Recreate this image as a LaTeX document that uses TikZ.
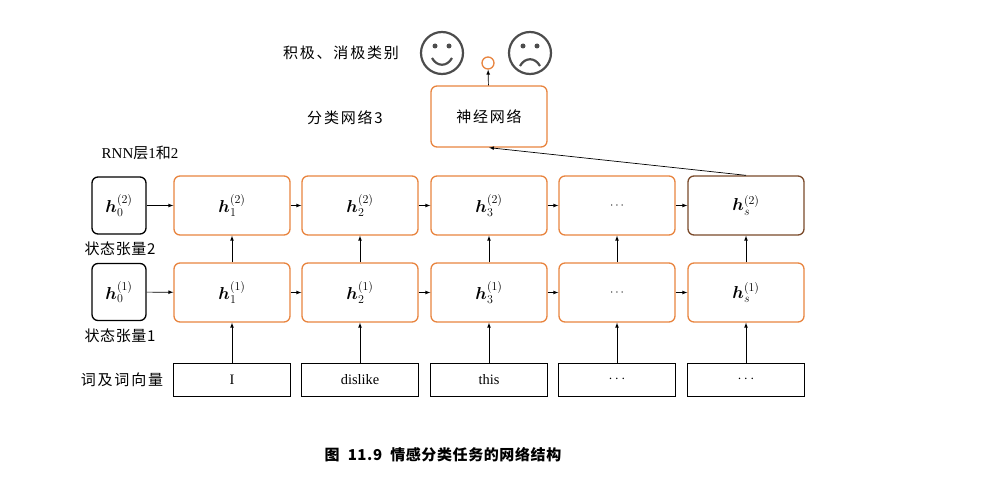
\documentclass[tikz,border=0pt]{standalone}
\usepackage{bm}
\usepackage{fontspec}
\newfontfamily\cjk[LetterSpace=12]{Noto Sans CJK SC}
\newfontfamily\cjkb[LetterSpace=4]{Noto Sans CJK SC}
\setmainfont{Liberation Serif}
\begin{document}
\begin{tikzpicture}[x=1pt,y=-1pt,
  cell/.style={draw=orng,line width=1.3pt,rounded corners=6pt,minimum width=116pt,minimum height=59pt,inner sep=0pt,font=\LARGE},
  init/.style={draw=black,line width=1.3pt,rounded corners=6pt,minimum width=54pt,minimum height=57pt,inner sep=0pt,font=\LARGE},
  inp/.style={draw=black,line width=1pt,minimum width=117pt,minimum height=33pt,inner sep=0pt},
  lbl/.style={font=\cjk\fontsize{15}{18}\selectfont,inner sep=0pt},
  arr/.style={-latex,line width=0.7pt},
  face/.style={draw=gray!60!black,line width=2.2pt}]
\definecolor{orng}{HTML}{E8843F}
\definecolor{brn}{HTML}{7A4A2A}
\useasboundingbox (0,0) rectangle (994,492);
\node[cell] (t1) at (232,205.5) {$\bm{h}_1^{(2)}$};
\node[cell] (t2) at (360,205.5) {$\bm{h}_2^{(2)}$};
\node[cell] (t3) at (489,205.5) {$\bm{h}_3^{(2)}$};
\node[cell] (t4) at (617,205.5) {\large$\cdots$};
\node[cell,draw=brn] (t5) at (746,205.5) {$\bm{h}_s^{(2)}$};
\node[cell] (b1) at (232,292.5) {$\bm{h}_1^{(1)}$};
\node[cell] (b2) at (360,292.5) {$\bm{h}_2^{(1)}$};
\node[cell] (b3) at (489,292.5) {$\bm{h}_3^{(1)}$};
\node[cell] (b4) at (617,292.5) {\large$\cdots$};
\node[cell] (b5) at (746,292.5) {$\bm{h}_s^{(1)}$};
\node[inp,font=\Large] (i1) at (232,379.5) {I};
\node[inp,font=\Large] (i2) at (360,379.5) {dislike};
\node[inp,font=\Large] (i3) at (489,379.5) {this};
\node[inp] (i4) at (617,379.5) {\Large$\cdots$};
\node[inp] (i5) at (746,379.5) {\Large$\cdots$};
\node[init] (h2) at (119,205.5) {$\bm{h}_0^{(2)}$};
\node[init] (h1) at (119,292) {$\bm{h}_0^{(1)}$};
\node[draw=orng,line width=1.3pt,rounded corners=6pt,minimum width=116pt,minimum height=61pt,font=\cjk\fontsize{15}{18}\selectfont] (net) at (489,116.5) {神经网络};
\node[circle,draw=orng,line width=1.3pt,minimum size=12pt,inner sep=0pt] (o) at (488,63) {};
\draw[face] (442,53) circle (21);
\fill[gray!60!black] (435,46) circle (2.5) (449,46) circle (2.5);
\draw[face] (432,58) .. controls (437,67) and (447,67) .. (452,58);
\draw[face] (530,53) circle (21);
\fill[gray!60!black] (523,46) circle (2.5) (537,46) circle (2.5);
\draw[face] (520,66) .. controls (525,57) and (535,57) .. (540,66);
\node[lbl] at (341,53) {积极、消极类别};
\node[lbl] at (345,118) {分类网络3};
\node[lbl] at (140,153) {\fontspec{Liberation Serif}RNN\cjkb 层\fontspec{Liberation Serif}1\cjkb 和\fontspec{Liberation Serif}2};
\node[lbl,font=\cjkb\fontsize{15}{18}\selectfont] at (120,249) {状态张量2};
\node[lbl,font=\cjkb\fontsize{15}{18}\selectfont] at (120,336) {状态张量1};
\node[lbl] at (122,380) {词及词向量};
\node[font=\cjkb\fontsize{15}{18}\selectfont\bfseries,inner sep=0pt] at (443,455) {图\ \ 11.9\ \ 情感分类任务的网络结构};
\draw[arr] (h2) -- (t1); \draw[arr] (h1) -- (b1);
\foreach \a/\b in {1/2,2/3,3/4,4/5}{\draw[arr] (t\a) -- (t\b); \draw[arr] (b\a) -- (b\b);}
\foreach \n in {1,...,5}{\draw[arr] (i\n) -- (b\n); \draw[arr] (b\n) -- (t\n);}
\draw[arr] (t5.north) -- (net.south);
\draw[arr] (net) -- (o);
\end{tikzpicture}
\end{document}
